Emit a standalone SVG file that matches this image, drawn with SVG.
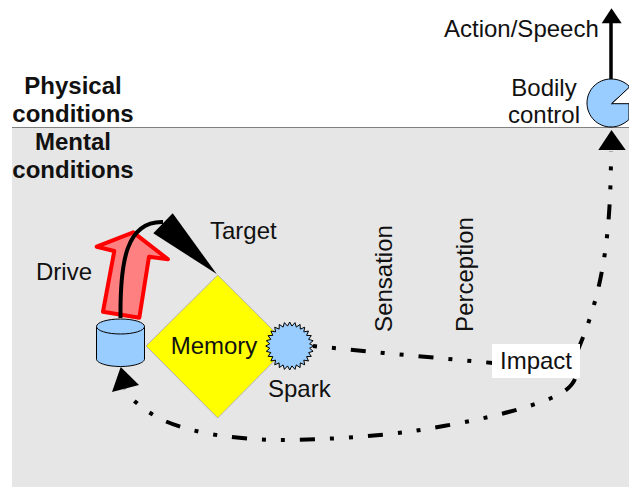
<svg xmlns="http://www.w3.org/2000/svg" width="629" height="487" viewBox="0 0 629 487">
<style>
text{font-family:"Liberation Sans",Arial,sans-serif;font-size:24px;fill:#111}
.b{font-weight:bold;text-anchor:middle}
.m{text-anchor:middle}
.dd{fill:none;stroke:#000;stroke-width:4;stroke-dasharray:15 15 4 15 4 15}
.f{fill:#99ccff;stroke:#000;stroke-width:1}
</style>
<rect width="629" height="487" fill="#fff"/>
<rect x="12" y="127" width="617" height="360" fill="#e6e6e6"/>
<line x1="12" y1="127.500" x2="629" y2="127.500" stroke="#808080" stroke-width="1"/>
<g id="physical-label"><text class="b" x="73" y="94">Physical</text><text class="b" x="73" y="122">conditions</text></g>
<g id="mental-label"><text class="b" x="73" y="150">Mental</text><text class="b" x="73" y="178">conditions</text></g>
<g id="drive-arrow"><polygon points="103,311.700 139.300,317.700 149,256.700 168,259.300 133.300,232.300 96.700,246.700 114.300,251" fill="#ff8080" stroke="#ff0000" stroke-width="4" stroke-linejoin="round"/></g>
<g id="drive-label"><text x="36" y="280">Drive</text></g>
<g id="memory"><polygon points="217.700,275 289,346 217.700,418 146,346" fill="#ffff00" stroke="#b3b3b3" stroke-width="1"/><text class="m" x="214" y="354">Memory</text></g>
<g id="drive-store"><path class="f" d="M96.500 326.500V359c0 4 10.700 7.500 24 7.500s24-3.500 24-7.500V326.500"/><ellipse class="f" cx="120.500" cy="326.500" rx="24" ry="7.500"/></g>
<g id="spark"><polygon class="f" transform="translate(289.700 346)" points="24,0 19.900,2.200 23.400,5.300 18.900,6.600 21.600,10.400 16.900,10.600 18.800,15 14.100,14.100 15,18.800 10.600,16.900 10.400,21.600 6.600,18.900 5.300,23.400 2.200,19.900 0,24 -2.200,19.900 -5.300,23.400 -6.600,18.900 -10.400,21.600 -10.600,16.900 -15,18.800 -14.100,14.100 -18.800,15 -16.900,10.600 -21.600,10.400 -18.900,6.600 -23.400,5.300 -19.900,2.200 -24,0 -19.900,-2.200 -23.400,-5.300 -18.900,-6.600 -21.600,-10.400 -16.900,-10.600 -18.800,-15 -14.100,-14.100 -15,-18.800 -10.600,-16.900 -10.400,-21.600 -6.600,-18.900 -5.300,-23.400 -2.200,-19.900 0,-24 2.200,-19.900 5.300,-23.400 6.600,-18.900 10.400,-21.600 10.600,-16.900 15,-18.800 14.100,-14.100 18.800,-15 16.900,-10.600 21.600,-10.400 18.900,-6.600 23.400,-5.300 19.900,-2.200"/></g>
<g id="connectors">
<path d="M120.500 318C120 262 126 221 163 222" fill="none" stroke="#000" stroke-width="4"/>
<polygon points="216.700,274 172.700,213.300 153.300,233.300" fill="#000"/>
<path class="dd" stroke-dashoffset="30" d="M313 346L384 353L493 363"/>
<path class="dd" d="M577.500 351C599 300 611 250 611 151"/>
<path class="dd" d="M575 379C572 386 566 391 556 396C520 412 465 423 414 431C370 437 320 440 276 440C235 439 195 434 165 421C152 415 140 407 130 396.700L125 389"/>
<polygon points="120.700,367 112,392 139,385" fill="#000"/>
<polygon points="611.500,130 598.300,150 625.700,150" fill="#000"/>
<line x1="611" y1="80" x2="611" y2="22" stroke="#000" stroke-width="3.500"/>
<polygon points="611.500,8.300 601.700,23.300 621.700,23.300" fill="#000"/>
</g>
<g id="action-label"><text x="444" y="37">Action/Speech</text></g>
<g id="bodily-control"><path class="f" d="M611.700 103.700L629 88V119.500C624 124 618 127 611 127C597.700 127 587 116.300 587 103C587 89.700 597.700 79 611 79C618 79 624 81.500 629 86V88Z"/><path d="M629 87.500L611.700 103.700H629Z" fill="#fff"/><path d="M629 87.500L611.700 103.700H629" fill="none" stroke="#000" stroke-width="1"/><text class="m" x="544" y="96">Bodily</text><text class="m" x="544" y="123">control</text></g>
<g id="target-label"><text x="210" y="239">Target</text></g>
<g id="spark-label"><text x="268" y="397">Spark</text></g>
<g id="sensation-label"><text class="m" transform="translate(392 278.500) rotate(-90)">Sensation</text></g>
<g id="perception-label"><text class="m" transform="translate(473 274.500) rotate(-90)">Perception</text></g>
<g id="impact"><rect x="492" y="344" width="88" height="34" fill="#fff"/><text class="m" x="536" y="369">Impact</text></g>
</svg>
